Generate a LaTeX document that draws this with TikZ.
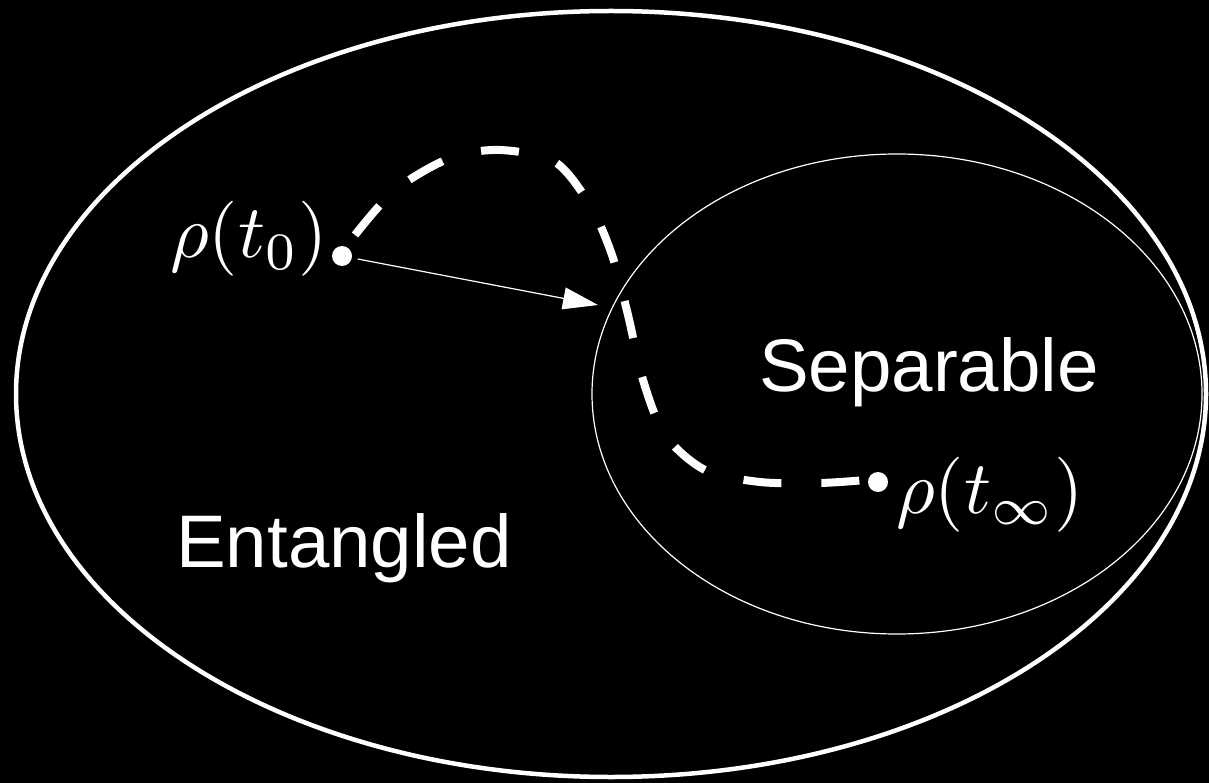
\documentclass[tikz,border=0pt]{standalone}
\usepackage{fontspec}
\setmainfont{Liberation Sans}
\usetikzlibrary{arrows.meta}
\begin{document}
\begin{tikzpicture}[x=1pt,y=-1pt,
  bigell/.style={draw=white,line width=4.5pt},
  smallell/.style={draw=white,line width=1.2pt},
  dotnode/.style={circle,fill=white,minimum size=20pt,inner sep=0pt,outer sep=6pt},
  lbl/.style={text=white,inner sep=0pt,anchor=base west,font=\fontsize{74.5}{80}\selectfont},
  mathlbl/.style={text=white,inner sep=0pt,anchor=base west,font=\normalsize},
  traj/.style={draw=white,line width=8pt,dash pattern=on 38pt off 40pt},
  arr/.style={draw=white,line width=1.2pt,-{Triangle[length=35pt,width=22pt]}}]
\fill[black] (0,0) rectangle (1209,783);
\useasboundingbox (0,0) rectangle (1209,783);
\draw[bigell] (611,394) ellipse [x radius=595, y radius=383];
\draw[smallell] (897,394) ellipse [x radius=305, y radius=240];
\node[lbl] (sep) at (759,391) {Separable};
\node[lbl] (ent) at (176,567) {Entangled};
\node[dotnode] (d0) at (342,256) {};
\node[dotnode] (d1) at (878,482) {};
\node[mathlbl] (r0) at (170,258) {\scalebox{7.5}{$\rho(t_0)$}};
\node[mathlbl] (r1) at (896,513) {\scalebox{7.5}{$\rho(t_\infty)$}};
\coordinate (tip) at (598,305);
\draw[arr] (d0) -- (tip);
\draw[traj] plot[smooth] coordinates {(355,235) (395,190) (450,158) (500,150) (555,162) (590,205) (612,255) (628,315) (643,380) (665,435) (705,470) (760,482) (820,483) (866,480)};
\end{tikzpicture}
\end{document}
